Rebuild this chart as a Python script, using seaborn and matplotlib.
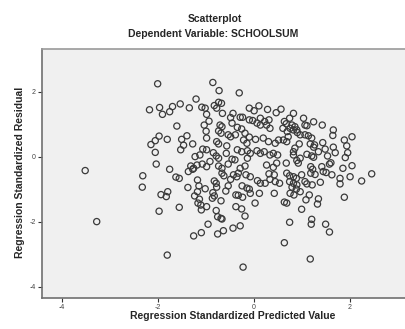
import matplotlib
matplotlib.use("Agg")
import matplotlib.pyplot as plt
import seaborn as sns
import pandas as pd

# Regression Standardized Predicted Value (x) and Standardized Residual (y)
pred_left = [-2.01, -2.18, -1.97, -1.91, -1.76, -1.98, -2.06, -2.15, -1.81, -2.06, -2.04,
             -3.52, -2.32, -1.76, -2.33, -1.94, -1.83, -1.80, -1.98, -3.28, -1.81]
resid_left = [2.25, 1.45, 1.52, 1.31, 1.39, 0.64, 0.50, 0.38, 0.54, 0.14, -0.22,
              -0.42, -0.58, -0.38, -0.93, -1.16, -1.22, -1.07, -1.67, -1.99, -3.02]

pred_upper = [-0.86, -0.73, -0.31, -1.21, -1.70, -1.54, -1.35, -1.09, -1.02, -0.74, -0.68,
              -0.83, -0.78, -0.99, -0.66, -0.44, -0.10, 0.00, 0.10, 0.28, 0.46, -0.49,
              -0.29, -0.24, -0.10, -0.03, 0.13, 0.22, 0.31, -0.94, -1.61, -1.04, -0.71,
              -0.67, -0.46, -0.35, -0.26, 0.06, 0.13, 0.26, 0.33, -1.00, -0.74, -0.69,
              -0.54, -0.49, -0.39, -0.19, -0.10, 0.03, -1.51, -1.40, -1.28, -0.99, -0.78,
              -0.74, -0.22, -0.15, 0.19, 0.30, 0.44, 0.51, -1.47, -1.53, -1.07, -0.99,
              -0.57, -0.35, -0.26, -0.14, -0.08, 0.06, 0.13, 0.21, 0.33, 0.40, 0.49,
              -1.23, -1.13, -0.85, -0.79, -0.74, -0.58, -0.46, -0.40, -0.14, -1.32, -1.26,
              -1.19, -1.08, -0.92, -0.99, -0.74, -0.67, -0.54, -0.29, -0.19, 0.26, 0.40,
              0.47, -1.63, -1.56, -1.37, -1.28, -0.67, -0.63, -0.33, -0.17, -0.08]
resid_upper = [2.29, 2.04, 1.97, 1.78, 1.55, 1.63, 1.51, 1.53, 1.50, 1.68, 1.65,
               1.58, 1.50, 1.31, 1.34, 1.34, 1.50, 1.42, 1.57, 1.46, 1.36, 1.21,
               1.22, 1.22, 1.14, 1.12, 1.19, 1.09, 1.14, 1.10, 0.95, 0.98, 0.98,
               0.93, 1.04, 0.91, 0.86, 1.04, 0.98, 0.98, 0.88, 0.79, 0.80, 0.73,
               0.68, 0.62, 0.68, 0.73, 0.61, 0.54, 0.54, 0.65, 0.40, 0.58, 0.47,
               0.40, 0.52, 0.42, 0.58, 0.47, 0.42, 0.52, 0.36, 0.22, 0.24, 0.22,
               0.34, 0.22, 0.16, 0.19, 0.11, 0.19, 0.11, 0.16, 0.06, 0.11, 0.06,
               0.01, 0.06, 0.13, 0.03, -0.04, 0.11, -0.07, -0.09, -0.04, -0.28, -0.35,
               -0.25, -0.22, -0.14, -0.30, -0.28, -0.35, -0.22, -0.35, -0.28, -0.25, -0.32,
               -0.19, -0.62, -0.66, -0.45, -0.38, -0.50, -0.58, -0.50, -0.55, -0.61]

pred_lower = [-1.38, -1.18, -1.15, -1.18, -1.24, -1.14, -1.17, -1.11, -1.10, -0.99, -1.02,
              -0.83, -0.79, -0.78, -0.86, -0.83, -0.87, -0.54, -0.49, -0.43, -0.36, -0.59,
              -0.69, -0.38, -0.33, -0.25, -0.24, -0.15, -0.10, -0.08, 0.07, 0.13, 0.11,
              0.23, 0.31, 0.33, 0.42, 0.44, 0.53, 0.42, 0.63, 0.68, 0.02, -1.56, -0.79,
              -0.38, -0.26, -0.69, -0.67, -0.76, -0.19, -0.96, -0.64, -0.44, -0.29, -0.76,
              -1.26, -1.10, 0.74, 0.63, -0.23, 0.68]
resid_lower = [-0.94, -0.71, -0.89, -1.07, -1.20, -1.30, -1.42, -1.48, -1.63, -1.53, -0.98,
               -0.74, -0.81, -0.93, -1.10, -1.20, -1.27, -0.89, -0.69, -0.55, -0.61, -1.05,
               -1.35, -1.17, -1.18, -0.89, -1.24, -0.96, -0.99, -1.12, -0.73, -0.81, -1.12,
               -0.81, -0.52, -0.69, -0.55, -0.76, -0.81, -1.12, -1.39, -1.42, -1.42, -1.55, -1.65,
               -1.53, -1.60, -1.89, -1.91, -1.84, -1.82, -2.07, -2.27, -2.19, -2.12, -2.37,
               -2.43, -2.33, -2.01, -2.64, -3.39, -0.50]

pred_right = [0.56, 0.82, 0.74, 0.63, 0.67, 1.03, 1.24, 1.42, 1.06, 1.10, 0.79,
              0.85, 0.89, 0.82, 0.75, 0.69, 0.60, 0.90, 0.96, 1.06, 1.13, 1.20,
              1.65, 1.64, 1.88, 2.04, 1.43, 1.17, 1.24, 1.26, 0.94, 0.85, 0.82,
              0.61, 0.68, 0.71, 1.48, 1.65, 1.69, 1.93, 1.95, 1.34, 1.10, 1.20,
              1.24, 1.53, 1.90, 0.96, 0.82, 1.60, 1.57, 0.67, 0.89, 0.92, 2.04,
              1.85, 1.41, 1.18, 1.22,
              2.45, 2.00, 2.24, 1.79, 1.79, 1.62, 1.44, 1.50, 1.38, 1.18, 1.27,
              0.99, 1.06, 1.10, 1.21, 0.74, 0.82, 0.88, 0.74, 0.82, 0.79, 0.88,
              0.75, 0.83, 0.96, 0.89, 1.15, 1.08, 1.34, 1.32, 1.88, 0.99, 1.20,
              1.19, 1.49, 1.57, 1.17]
resid_right = [1.47, 1.34, 1.19, 1.09, 1.02, 1.19, 1.08, 0.98, 0.98, 0.96, 0.98,
               0.93, 0.83, 0.83, 0.88, 0.78, 0.88, 0.75, 0.68, 0.68, 0.65, 0.58,
               0.83, 0.66, 0.52, 0.62, 0.44, 0.40, 0.30, 0.37, 0.40, 0.27, 0.16,
               0.52, 0.47, 0.62, 0.24, 0.30, 0.13, 0.34, 0.13, 0.16, 0.08, 0.03,
               -0.01, 0.03, -0.02, -0.04, 0.06, -0.18, -0.22, -0.19, -0.11, -0.19, -0.27,
               -0.35, -0.30, -0.30, -0.38,
               -0.52, -0.61, -0.74, -0.66, -0.83, -0.55, -0.45, -0.48, -0.78, -0.50, -0.54,
               -0.55, -0.76, -0.83, -0.86, -0.58, -0.61, -0.66, -0.76, -0.81, -0.93, -0.99,
               -1.12, -1.17, -1.07, -0.86, -1.17, -1.32, -1.29, -1.45, -1.24, -1.61, -1.92,
               -2.07, -2.07, -2.31, -3.14]

x_ticks = [-4, -2, 0, 2]
y_ticks = [-4, -2, 0, 2]

df = pd.DataFrame({
    "pred": pred_left + pred_upper + pred_lower + pred_right,
    "resid": resid_left + resid_upper + resid_lower + resid_right,
})

sns.set_style("white")
plt.rcParams["font.family"] = ["Liberation Sans", "DejaVu Sans"]

fig = plt.figure(figsize=(4.06, 3.29), dpi=100)
# frame runs past the right edge of the picture, as in the screenshot
ax = fig.add_axes([42 / 406, 1 - 298 / 329, 382 / 406, 249 / 329])
ax.set_facecolor("#f0f0f0")

sns.scatterplot(data=df, x="pred", y="resid", ax=ax, marker="o",
                facecolor="none", edgecolor="#3a3a3a", s=20, linewidth=0.9,
                legend=False)

ax.set_xlim(-4.42, 3.54)
ax.set_ylim(-4.34, 3.32)
ax.set_xticks(x_ticks)
ax.set_yticks(y_ticks)
ax.set_xticklabels([str(t) for t in x_ticks], fontsize=5, color="#444444")
ax.set_yticklabels([str(t) for t in y_ticks], fontsize=5, color="#444444")
ax.tick_params(axis="both", direction="out", length=3, width=0.8, color="#333333", pad=1.5,
               bottom=True, left=True)

for side in ["left", "bottom", "top", "right"]:
    ax.spines[side].set_color("#9a9a9a")
    ax.spines[side].set_linewidth(1.2)
ax.spines["left"].set_color("#707070")
ax.spines["bottom"].set_color("#707070")

ax.set_xlabel("")
ax.set_ylabel("")
fig.text(233 / 406, 1 - 316 / 329, "Regression Standardized Predicted Value",
         ha="center", va="center", fontsize=7.5, fontweight="bold")
fig.text(20 / 406, 1 - 172 / 329, "Regression Standardized Residual",
         ha="center", va="center", rotation=90, fontsize=7.5, fontweight="bold")
fig.text(215 / 406, 1 - 19 / 329, "Scatterplot",
         ha="center", va="center", fontsize=7.5, fontweight="bold")
fig.text(213 / 406, 1 - 34 / 329, "Dependent Variable: SCHOOLSUM",
         ha="center", va="center", fontsize=7.5, fontweight="bold")

fig.savefig("out.png", dpi=100)
